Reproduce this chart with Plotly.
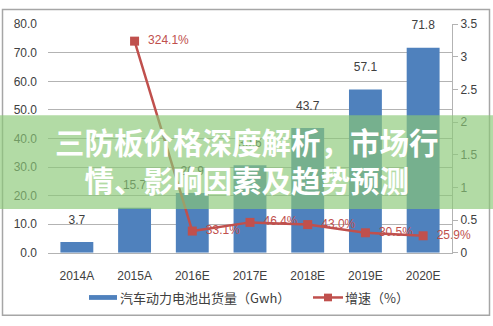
import plotly.graph_objects as go

# Data
categories = ["2014A", "2015A", "2016E", "2017E", "2018E", "2019E", "2020E"]
shipments = [3.7, 15.7, 20.9, 30.6, 43.7, 57.1, 71.8]          # Gwh
growth = [None, 3.241, 0.331, 0.464, 0.430, 0.305, 0.259]       # ratio
growth_labels = ["", "324.1%", "33.1%", "46.4%", "43.0%", "30.5%", "25.9%"]
bar_name = "汽车动力电池出货量（Gwh）"
line_name = "增速（%）"
title_text = "三防板价格深度解析，市场行<br>情、影响因素及趋势预测"

W, H = 493, 326
BLUE = "#4f81bd"
RED = "#c0504d"
GRID = "#b3b3b3"
TXT = "#404040"
FONT = "Liberation Sans, Noto Sans CJK SC, sans-serif"
CJK = "Noto Sans CJK SC, sans-serif"


def px_x(x):
    return x / W


def px_y(y):
    return (H - y) / H


fig = go.Figure()

fig.add_trace(go.Bar(
    x=categories, y=shipments, name=bar_name,
    marker=dict(color=BLUE, line=dict(width=0)),
    showlegend=False,
))

# Value labels above the bars (invisible markers give the text its offset)
fig.add_trace(go.Scatter(
    x=categories, y=shipments, mode="markers+text",
    marker=dict(size=23, color="rgba(0,0,0,0)"),
    text=[f"{v:.1f}" for v in shipments], textposition="top center",
    textfont=dict(family=FONT, size=12, color=TXT),
    cliponaxis=False, showlegend=False, hoverinfo="skip",
))

fig.add_trace(go.Scatter(
    x=categories, y=growth, name=line_name, yaxis="y2",
    mode="lines+markers",
    line=dict(color=RED, width=2.5),
    marker=dict(symbol="square", size=9, color=RED),
    cliponaxis=False, showlegend=False,
))

# Growth labels to the right of the markers
fig.add_trace(go.Scatter(
    x=categories, y=growth, yaxis="y2", mode="markers+text",
    marker=dict(size=20, color="rgba(0,0,0,0)"),
    text=growth_labels, textposition="middle right",
    textfont=dict(family=FONT, size=12, color=RED),
    cliponaxis=False, showlegend=False, hoverinfo="skip",
))

x_dom = [px_x(48), px_x(452)]
y_dom = [px_y(256.7), px_y(18)]

fig.update_layout(
    width=W, height=H,
    margin=dict(l=0, r=0, t=0, b=0),
    paper_bgcolor="white", plot_bgcolor="white",
    bargap=0.43,
    font=dict(family=FONT, color=TXT, size=12),
    xaxis=dict(
        domain=x_dom, range=[-0.5, 6.5], type="category",
        showline=True, linecolor=GRID, linewidth=1,
        showgrid=False, ticks="", zeroline=False,
        ticklabelstandoff=12,
        tickfont=dict(size=12, color=TXT, family=FONT),
    ),
    yaxis=dict(
        domain=y_dom, range=[0, 80], dtick=10, tickformat=".1f",
        showgrid=True, gridcolor=GRID, gridwidth=1,
        showline=False, zeroline=False, ticks="",
        ticklabelstandoff=10,
        tickfont=dict(size=12, color=TXT, family=FONT),
    ),
    yaxis2=dict(
        domain=y_dom, range=[0, 3.5], dtick=0.5, overlaying="y", side="right",
        showgrid=False, zeroline=False,
        showline=True, linecolor=GRID, linewidth=1,
        ticks="outside", ticklen=5, tickcolor=GRID,
        tickfont=dict(size=12, color=TXT, family=FONT),
    ),
)

shapes = []
# Outer frame
shapes.append(dict(type="rect", xref="paper", yref="paper",
                   x0=px_x(2.5), x1=px_x(489.5), y0=px_y(322), y1=px_y(2.5),
                   line=dict(color="#a6a6a6", width=1.5), fillcolor="rgba(0,0,0,0)"))
# Legend swatches
shapes.append(dict(type="rect", xref="paper", yref="paper",
                   x0=px_x(89), x1=px_x(117), y0=px_y(306), y1=px_y(301),
                   line=dict(width=0), fillcolor=BLUE))
shapes.append(dict(type="line", xref="paper", yref="paper",
                   x0=px_x(313), x1=px_x(343), y0=px_y(303.5), y1=px_y(303.5),
                   line=dict(color=RED, width=2.5)))
shapes.append(dict(type="rect", xref="paper", yref="paper",
                   x0=px_x(324), x1=px_x(332), y0=px_y(307.5), y1=px_y(299.5),
                   line=dict(width=0), fillcolor=RED))
# Title band over the plot
shapes.append(dict(type="rect", xref="paper", yref="paper", layer="above",
                   x0=0, x1=1, y0=px_y(211), y1=px_y(113),
                   line=dict(width=0), fillcolor="rgba(138,200,118,0.66)"))

annotations = [
    dict(text=bar_name, xref="paper", yref="paper", x=px_x(118), y=px_y(303.5),
         xanchor="left", yanchor="middle", showarrow=False,
         font=dict(family=CJK, size=13, color=TXT)),
    dict(text=line_name, xref="paper", yref="paper", x=px_x(343), y=px_y(303.5),
         xanchor="left", yanchor="middle", showarrow=False,
         font=dict(family=CJK, size=13, color=TXT)),
    dict(text=f"<b>{title_text}</b>", xref="paper", yref="paper",
         x=0.5, y=px_y(160), xanchor="center", yanchor="middle",
         showarrow=False, align="center",
         font=dict(family=CJK, size=29.5, color="white")),
]

fig.update_layout(shapes=shapes, annotations=annotations)

fig.write_html("out.html")
